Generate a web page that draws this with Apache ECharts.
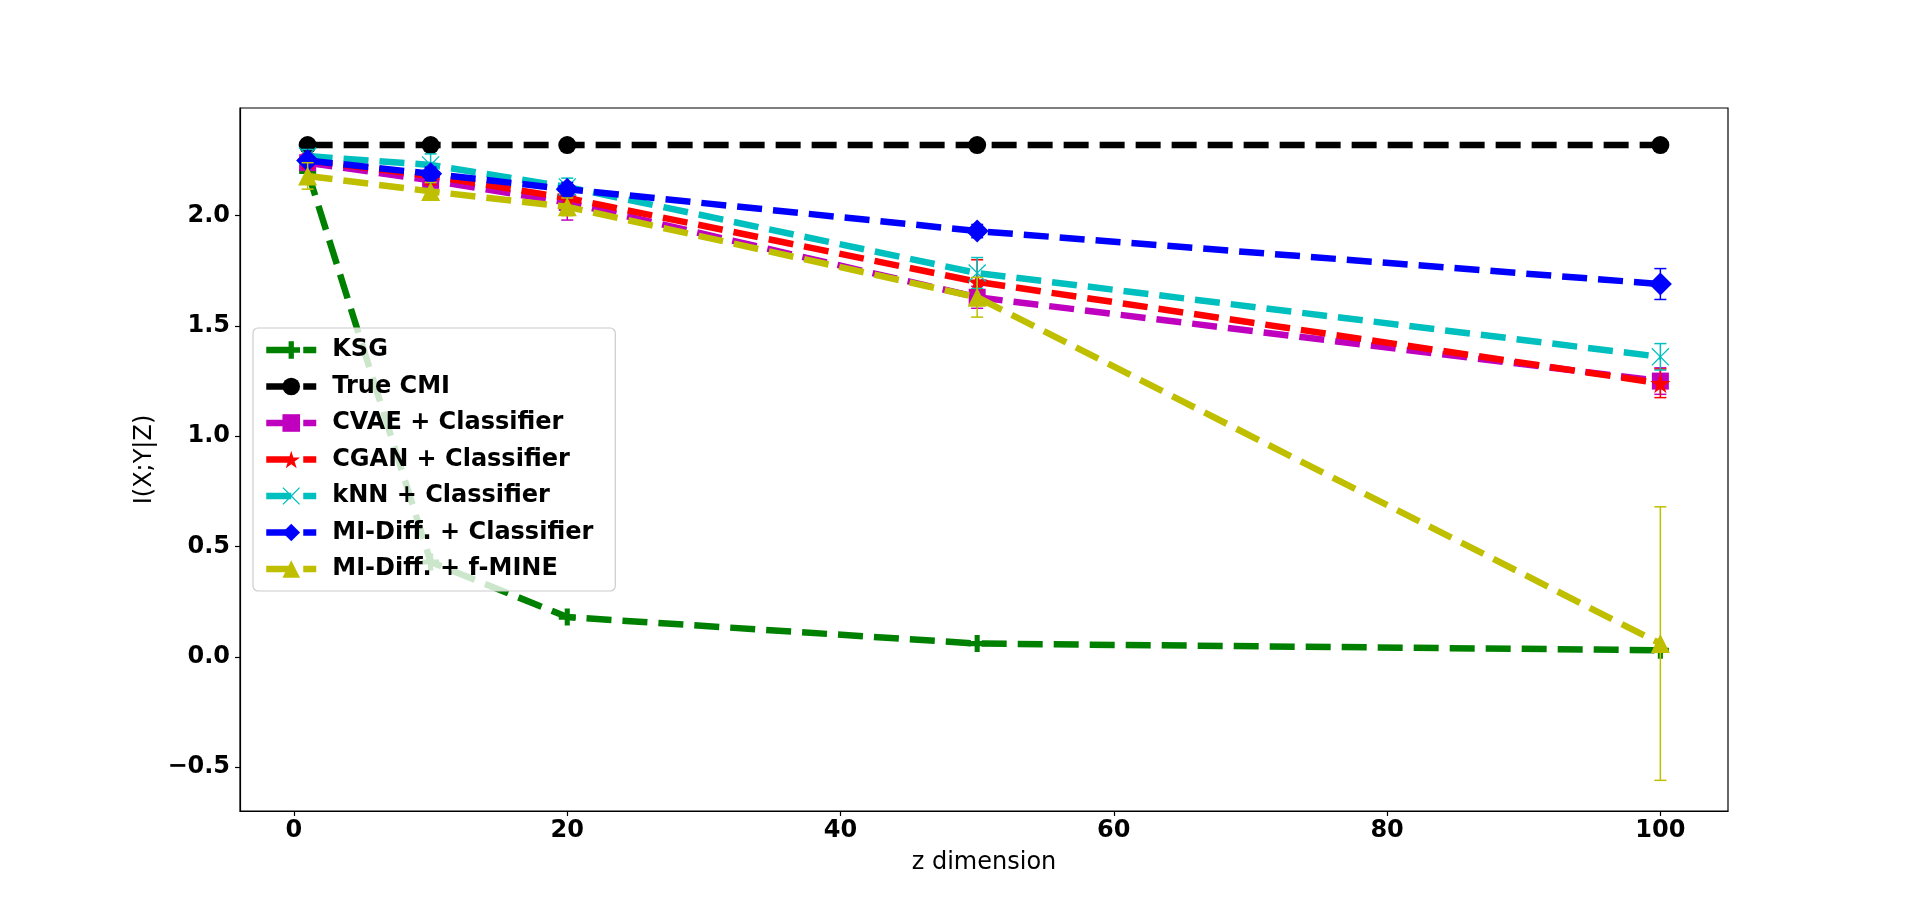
<!DOCTYPE html>
<html>
<head>
<meta charset="utf-8">
<script src="https://cdn.jsdelivr.net/npm/echarts@6/dist/echarts.min.js"></script>
<style>html,body{margin:0;padding:0;background:#fff;}#c{width:1920px;height:911px;}</style>
</head>
<body>
<div id="c"></div>
<script>
// ---- data ----
var xs = [1, 10, 20, 50, 100];
var names = ['KSG', 'True CMI', 'CVAE + Classifier', 'CGAN + Classifier', 'kNN + Classifier', 'MI-Diff. + Classifier', 'MI-Diff. + f-MINE'];
var ksg        = [2.20, 0.43, 0.18, 0.06, 0.03];
var trueCmi    = [2.32, 2.32, 2.32, 2.32, 2.32];
var cvae       = [2.24, 2.16, 2.06, 1.63, 1.25];
var cgan       = [2.25, 2.18, 2.08, 1.70, 1.24];
var knn        = [2.27, 2.23, 2.13, 1.74, 1.36];
var midiffCls  = [2.25, 2.19, 2.12, 1.93, 1.69];
var midiffMine = [2.18, 2.11, 2.04, 1.63, 0.06];
var ksgErr        = [0, 0, 0, 0, 0];
var trueCmiErr    = [0, 0, 0, 0, 0];
var cvaeErr       = [0.03, 0.04, 0.08, 0.05, 0.06];
var cganErr       = [0.03, 0.04, 0.05, 0.10, 0.065];
var knnErr        = [0.03, 0.05, 0.04, 0.07, 0.06];
var midiffClsErr  = [0.02, 0.03, 0.03, 0.03, 0.07];
var midiffMineErr = [0.06, 0.04, 0.04, 0.09, 0.62];
var xTicks = [0, 20, 40, 60, 80, 100];
var yTicks = [-0.5, 0.0, 0.5, 1.0, 1.5, 2.0];

// ---- styling ----
var values = [ksg, trueCmi, cvae, cgan, knn, midiffCls, midiffMine];
var errs = [ksgErr, trueCmiErr, cvaeErr, cganErr, knnErr, midiffClsErr, midiffMineErr];
var colors = ['#008000', '#000000', '#bf00bf', '#ff0000', '#00bfbf', '#0000ff', '#bfbf00'];
var starPath = 'path://M0,-10L2.234,-3.074L9.511,-3.090L3.614,1.174L5.878,8.090L0,3.8L-5.878,8.090L-3.614,1.174L-9.511,-3.090L-2.234,-3.074Z';
var plusPath = 'path://M3.5,0H6.5V3.5H10V6.5H6.5V10H3.5V6.5H0V3.5H3.5Z';
var xPath = 'path://M0,1L1,0L10,9L19,0L20,1L11,10L20,19L19,20L10,11L1,20L0,19L9,10Z';
var symbols = [plusPath, 'circle', 'rect', starPath, xPath, 'diamond', 'triangle'];
var symSizes = [17, 18, 17, 20, 18, 23, 19];
var FONT = 'DejaVu Sans';

var series = [];
for (var i = 0; i < names.length; i++) {
  var d = xs.map(function (x, j) { return [x, values[i][j]]; });
  var ed = xs.map(function (x, j) { return [x, values[i][j], errs[i][j]]; });
  (function (col) {
    series.push({
      type: 'custom',
      name: names[i] + ' err',
      data: ed,
      encode: { x: 0, y: 1 },
      z: 2 + i * 0.1,
      silent: true,
      renderItem: function (params, api) {
        var e = api.value(2);
        if (!e) return null;
        var x = api.value(0), y = api.value(1);
        var top = api.coord([x, y + e]);
        var bot = api.coord([x, y - e]);
        var hw = 6;
        var st = { stroke: col, lineWidth: 1.5 };
        return {
          type: 'group',
          children: [
            { type: 'line', shape: { x1: top[0], y1: top[1], x2: bot[0], y2: bot[1] }, style: st },
            { type: 'line', shape: { x1: top[0] - hw, y1: top[1], x2: top[0] + hw, y2: top[1] }, style: st },
            { type: 'line', shape: { x1: bot[0] - hw, y1: bot[1], x2: bot[0] + hw, y2: bot[1] }, style: st }
          ]
        };
      }
    });
  })(colors[i]);
  series.push({
    type: 'line',
    name: names[i],
    data: d,
    z: 2 + i * 0.1 + 0.05,
    symbol: symbols[i],
    symbolSize: symSizes[i],
    showAllSymbol: true,
    animation: false,
    lineStyle: { color: colors[i], width: 6.5, type: [25, 11], cap: 'butt' },
    itemStyle: { color: colors[i], borderWidth: 0, opacity: 1 },
    emphasis: { disabled: true }
  });
}

var chart = echarts.init(document.getElementById('c'), null, { renderer: 'canvas' });
function fmt(v) { return v < 0 ? '\u2212' + Math.abs(v).toFixed(1) : v.toFixed(1); }
chart.setOption({
  animation: false,
  backgroundColor: '#ffffff',
  textStyle: { fontFamily: FONT },
  grid: { left: 240, right: 192, top: 108, bottom: 100, show: true, borderColor: '#000', borderWidth: 1.2, backgroundColor: 'transparent' },
  xAxis: {
    type: 'value', min: -3.95, max: 104.95,
    name: 'z dimension', nameLocation: 'middle', nameGap: 40,
    nameTextStyle: { fontSize: 24, color: '#000', fontFamily: FONT },
    splitLine: { show: false },
    axisLine: { show: true, onZero: false, lineStyle: { color: '#000', width: 1.2 } },
    axisTick: { show: true, length: 5, lineStyle: { color: '#000', width: 1.2 }, customValues: xTicks },
    axisLabel: { fontSize: 24, fontWeight: 'bold', color: '#000', margin: 8, fontFamily: FONT, customValues: xTicks, formatter: function (v) { return String(v); } }
  },
  yAxis: {
    type: 'value', min: -0.699, max: 2.488,
    name: 'I(X;Y|Z)', nameLocation: 'middle', nameGap: 82,
    nameTextStyle: { fontSize: 24, color: '#000', fontFamily: FONT },
    splitLine: { show: false },
    axisLine: { show: true, onZero: false, lineStyle: { color: '#000', width: 1.2 } },
    axisTick: { show: true, length: 5, lineStyle: { color: '#000', width: 1.2 }, customValues: yTicks },
    axisLabel: { fontSize: 24, fontWeight: 'bold', color: '#000', margin: 10, fontFamily: FONT, customValues: yTicks, formatter: fmt }
  },
  legend: {
    data: names,
    orient: 'vertical',
    left: 253, top: 328,
    padding: [10, 22, 10, 10],
    itemWidth: 50, itemHeight: 22, itemGap: 12.5,
    backgroundColor: 'rgba(255,255,255,0.8)',
    borderColor: '#cccccc', borderWidth: 1.2, borderRadius: 5,
    lineStyle: { width: 6.5, type: [25, 12], cap: 'butt' },
    textStyle: { fontSize: 24, fontWeight: 'bold', color: '#000', fontFamily: FONT, lineHeight: 24, padding: [0, 0, 0, 11] },
    selectedMode: false
  },
  series: series
});
</script>
</body>
</html>
